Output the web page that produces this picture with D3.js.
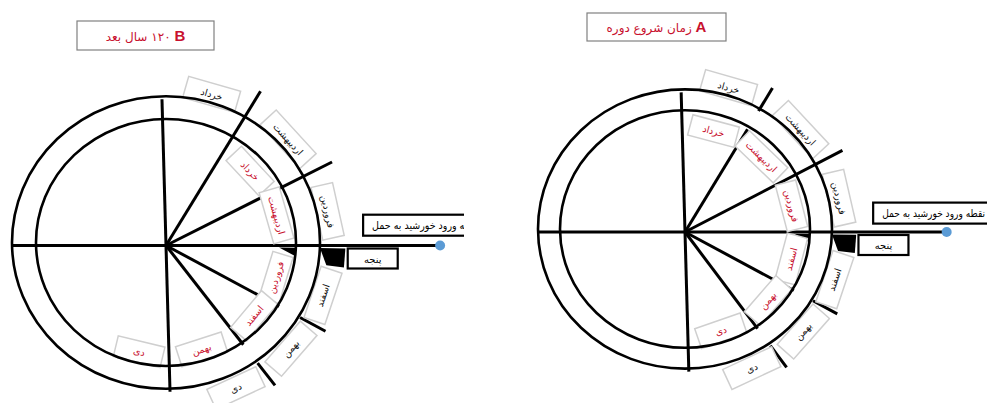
<!DOCTYPE html>
<html>
<head>
<meta charset="utf-8">
<script src="https://cdn.jsdelivr.net/npm/d3@7"></script>
<style>
  body { margin: 0; background: #fff; }
  svg { display: block; }
</style>
</head>
<body>
<svg id="chart" width="987" height="403"></svg>
<script>
// Month labels (same order on both wheels, from the top going clockwise)
var months = ["خرداد", "اردیبهشت", "فروردین", "اسفند", "بهمن", "دی"];

// Label angles in degrees, counter-clockwise from the sun's entry line
var outerAnglesB = [74, 42.5, 12.5, -18.5, -41, -65];
var innerAnglesB = [43, 16, -17, -40, -72, -103.5];
var outerAnglesA = [74, 43, 13, -18.5, -41.5, -65];
var innerAnglesA = [75, 46, 14.5, -15, -41, -71];

// Spokes: axis lines stop at the outer circle, long spokes cross the ring,
// broken spokes stop at the inner circle and carry a tick outside the ring
var axisAngles = [180, 91.5, -88.5];
var longSpokesB = [59.8, 27.9];
var brokenSpokesB = [-29.5, -53.5];
var longSpokesA = [28.6];
var brokenSpokesA = [60, -29.5, -54.5];

var titleLetters = ["B", "A"];
var titles = ["۱۲۰ سال بعد", "زمان شروع دوره"];
var entryLabel = "نقطه ورود خورشید به حمل";
var extraDaysLabel = "پنجه";

var FONT = "'DejaVu Sans', sans-serif";
var RED = "#c8102e";

var panels = [
  { key: "B", cx: 166, cy: 245.5, rOuter: 154, rInner: 130, squash: 0.95, clip: [0, 464],
    letter: titleLetters[0], title: titles[0], titleBox: [77, 21, 137, 29],
    outer: outerAnglesB, inner: innerAnglesB, long: longSpokesB, broken: brokenSpokesB },
  { key: "A", cx: 685, cy: 232, rOuter: 147, rInner: 125, squash: 0.95, clip: [470, 987],
    letter: titleLetters[1], title: titles[1], titleBox: [587, 13, 139, 28],
    outer: outerAnglesA, inner: innerAnglesA, long: longSpokesA, broken: brokenSpokesA }
];

var svg = d3.select("#chart");
var angle = d3.scaleLinear().domain([0, 360]).range([0, 2 * Math.PI]);

function drawPanel(p) {
  var r = d3.scaleLinear().domain([0, 1]).range([0, p.rOuter]);
  var inner = p.rInner / p.rOuter;

  function pt(deg, rr) {
    var a = angle(deg);
    return [p.cx + r(rr) * Math.cos(a), p.cy - p.squash * r(rr) * Math.sin(a)];
  }

  svg.append("clipPath").attr("id", "clip" + p.key)
    .append("rect").attr("x", p.clip[0]).attr("y", 0)
    .attr("width", p.clip[1] - p.clip[0]).attr("height", 403);

  var g = svg.append("g").attr("clip-path", "url(#clip" + p.key + ")");

  // title box: bold latin letter on the right, persian text to its left
  g.append("rect")
    .attr("x", p.titleBox[0]).attr("y", p.titleBox[1])
    .attr("width", p.titleBox[2]).attr("height", p.titleBox[3])
    .attr("fill", "#fff").attr("stroke", "#808080").attr("stroke-width", 1.2);
  var t = g.append("text")
    .attr("x", p.titleBox[0] + p.titleBox[2] / 2)
    .attr("y", p.titleBox[1] + p.titleBox[3] / 2 + 5)
    .attr("text-anchor", "middle")
    .attr("direction", "rtl")
    .style("direction", "rtl")
    .attr("font-family", FONT)
    .attr("fill", RED);
  t.append("tspan").attr("font-weight", "bold").attr("font-size", 15)
    .attr("font-family", "'Liberation Sans', Arial, sans-serif").text(p.letter);
  t.append("tspan").attr("font-size", 12).text("\u200F " + p.title);

  var line = d3.line();
  var lines = g.append("g").attr("stroke", "#000").attr("stroke-width", 3)
    .attr("fill", "none").attr("stroke-linecap", "butt");

  // axis lines to the outer circle
  lines.selectAll(".axis").data(axisAngles).enter().append("path")
    .attr("d", function(d) { return line([pt(0, 0), pt(d, 1)]); });

  // sun's entry line running out to the marker
  var dotR = 1.78;
  lines.append("path").attr("d", line([pt(0, 0), pt(0, dotR)]));

  // long spokes
  lines.selectAll(".long").data(p.long).enter().append("path")
    .attr("d", function(d) { return line([pt(d, 0), pt(d, 1.22)]); });

  // broken spokes: inside part and outside tick
  lines.selectAll(".brokenIn").data(p.broken).enter().append("path")
    .attr("d", function(d) { return line([pt(d, 0), pt(d, inner)]); });
  lines.selectAll(".brokenOut").data(p.broken).enter().append("path")
    .attr("d", function(d) { return line([pt(d, 1), pt(d, 1.19)]); });

  // the five extra days (پنجه) as black wedges
  g.append("path").attr("fill", "#000")
    .attr("d", line([pt(-1, inner - 0.11), pt(-1, inner), pt(-5, inner)]) + "Z");
  g.append("path").attr("fill", "#000")
    .attr("d", line([pt(-1, 1), pt(-1, 1.165), pt(-7.4, 1.165), pt(-7.4, 1.05)]) + "Z");

  function rot(d) { return d > 0 ? 90 - d : -(90 + d); }

  function labels(cls, angles, rr, h, minW, pad, color) {
    var lg = g.selectAll("." + cls).data(months).enter().append("g")
      .attr("transform", function(d, j) {
        var q = pt(angles[j], rr);
        return "translate(" + q[0] + "," + q[1] + ") rotate(" + rot(angles[j]) + ")";
      });
    lg.append("rect").attr("fill", "#fff")
      .attr("stroke", "#cfcfcf").attr("stroke-width", 1.5);
    var txt = lg.append("text").attr("text-anchor", "middle").attr("dy", "0.35em")
      .attr("font-family", FONT).attr("font-size", 9.5).attr("fill", color)
      .text(function(d) { return d; });
    txt.each(function() {
      var w = Math.max(minW, this.getComputedTextLength() + pad);
      d3.select(this.parentNode).select("rect")
        .attr("x", -w / 2).attr("y", -h / 2).attr("width", w).attr("height", h);
    });
  }

  labels("outerLab", p.outer, 1.075, 22, 54, 20, "#111");
  labels("innerLab", p.inner, (p.rInner - 15) / p.rOuter, 21, 48, 14, RED);

  // ring circles drawn on top
  [1, inner].forEach(function(k) {
    g.append("ellipse")
      .attr("cx", p.cx).attr("cy", p.cy - 3)
      .attr("rx", r(k)).attr("ry", p.squash * r(k))
      .attr("fill", "none").attr("stroke", "#000").attr("stroke-width", 2.6);
  });

  // marker at the end of the entry line
  var dot = pt(0, dotR);
  g.append("circle").attr("cx", dot[0]).attr("cy", dot[1]).attr("r", 5)
    .attr("fill", "#5b9bd5");

  // entry label box (runs past the panel edge, as in the source)
  var ex = p.cx + r(1.28), ey = p.cy - r(0.2);
  g.append("rect").attr("x", ex).attr("y", ey).attr("width", 125).attr("height", 21)
    .attr("fill", "#fff").attr("stroke", "#000").attr("stroke-width", 2.2);
  g.append("text").attr("x", ex + 9).attr("y", ey + 14.5)
    .attr("font-family", FONT).attr("font-size", 10.5).attr("fill", "#000")
    .attr("textLength", r(0.7)).attr("lengthAdjust", "spacingAndGlyphs")
    .text(entryLabel);

  // extra days label box
  var px = p.cx + r(1.18), py = p.cy + 3;
  g.append("rect").attr("x", px).attr("y", py).attr("width", 50).attr("height", 20)
    .attr("fill", "#fff").attr("stroke", "#000").attr("stroke-width", 2.2);
  g.append("text").attr("x", px + 25).attr("y", py + 14).attr("text-anchor", "middle")
    .attr("font-family", FONT).attr("font-size", 10).attr("fill", "#000")
    .text(extraDaysLabel);
}

panels.forEach(drawPanel);
</script>
</body>
</html>
